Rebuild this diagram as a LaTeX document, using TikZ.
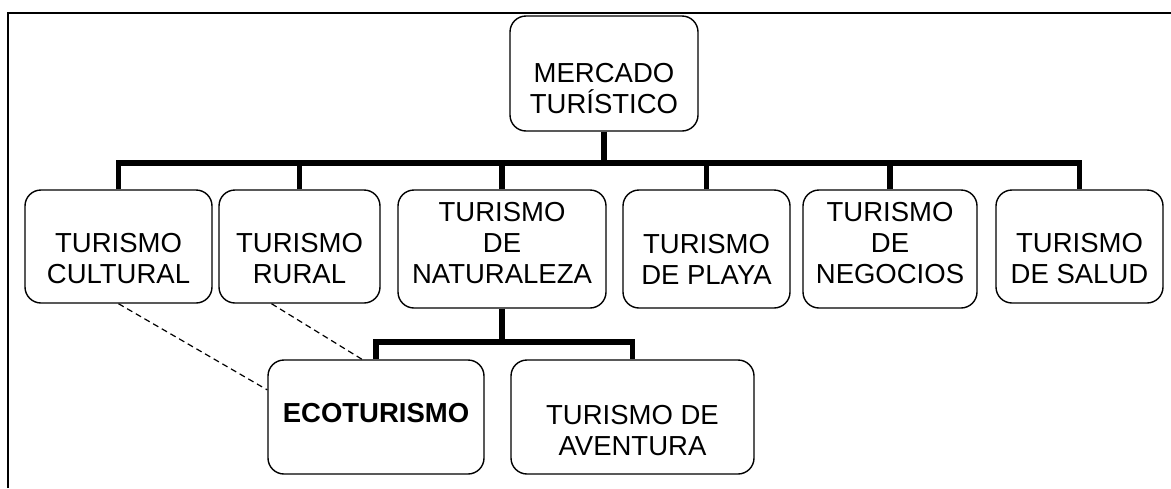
\documentclass[tikz,border=0pt]{standalone}
\usepackage{fontspec}
\setmainfont{Liberation Sans}
\usepackage{tikz}
\usetikzlibrary{shapes,arrows}
\tikzstyle{box} = [draw, rounded corners=16pt, line width=1.4pt]
\tikzstyle{txt} = [align=center, inner sep=0pt, font=\fontsize{27.5}{31}\selectfont]
\tikzstyle{tree} = [line width=5.5pt]
\tikzstyle{link} = [line width=1.2pt, dash pattern=on 6pt off 4pt]

\begin{document}
\begin{tikzpicture}[x=1pt,y=-1pt]
\useasboundingbox (0,0) rectangle (1171,488);
\draw[line width=2.5pt] (8,488) -- (8,13) -- (1171,13);

\node[box, minimum width=188pt, minimum height=115pt] (merc) at (604,73.5) {};
\node[box, minimum width=187pt, minimum height=113pt] (cult) at (118.5,246.5) {};
\node[box, minimum width=161pt, minimum height=113pt] (rur) at (299.5,246.5) {};
\node[box, minimum width=208pt, minimum height=118pt] (nat) at (502,249) {};
\node[box, minimum width=167pt, minimum height=118pt] (play) at (706.5,249) {};
\node[box, minimum width=174pt, minimum height=118pt] (neg) at (890,249) {};
\node[box, minimum width=167pt, minimum height=113pt] (sal) at (1079.5,246.5) {};
\node[box, minimum width=216pt, minimum height=114pt] (eco) at (376,417) {};
\node[box, minimum width=243pt, minimum height=114pt] (aven) at (632.5,417) {};

\node[txt] (merc-t) at (604,89) {MERCADO\\TURÍSTICO};
\node[txt] (cult-t) at (118.5,259) {TURISMO\\CULTURAL};
\node[txt] (rur-t) at (299.5,259) {TURISMO\\RURAL};
\node[txt] (nat-t) at (502,243.5) {TURISMO\\DE\\NATURALEZA};
\node[txt] (play-t) at (706.5,259) {TURISMO\\DE PLAYA};
\node[txt] (neg-t) at (890,243.5) {TURISMO\\DE\\NEGOCIOS};
\node[txt] (sal-t) at (1079.5,259) {TURISMO\\DE SALUD};
\node[txt, font=\fontsize{27.5}{31}\selectfont\bfseries] (eco-t) at (376,413) {ECOTURISMO};
\node[txt] (aven-t) at (632.5,431) {TURISMO DE\\AVENTURA};

\coordinate (bus) at (604,163);
\coordinate (bus2) at (502,342);

\draw[tree] (merc.south) -- (bus);
\draw[tree] (cult.north) |- (bus) -| (sal.north);
\draw[tree] (rur.north) -- (rur.north |- bus);
\draw[tree] (nat.north) -- (nat.north |- bus);
\draw[tree] (play.north) -- (play.north |- bus);
\draw[tree] (neg.north) -- (neg.north |- bus);

\draw[tree] (nat.south) -- (bus2);
\draw[tree] (eco.north) |- (bus2) -| (aven.north);

\draw[link] (cult.south) -- (eco.166);
\draw[link] ([xshift=-28pt]rur.south) -- ([xshift=-14pt]eco.north);
\end{tikzpicture}
\end{document}
